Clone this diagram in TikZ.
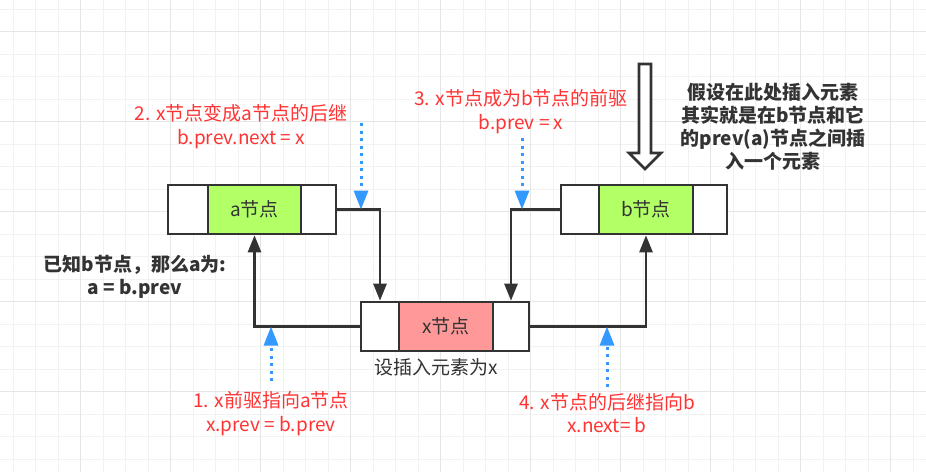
\documentclass[tikz,border=0pt]{standalone}
\usepackage{fontspec}
\setmainfont{Noto Sans CJK SC}
\usetikzlibrary{arrows.meta}
\definecolor{dark}{HTML}{333333}
\definecolor{redtxt}{HTML}{FF3333}
\definecolor{bluearr}{HTML}{3399FF}
\definecolor{greenfill}{HTML}{B3FF66}
\definecolor{pinkfill}{HTML}{FF9999}
\definecolor{gridminor}{HTML}{F2F2F2}
\definecolor{gridmajor}{HTML}{E6E6E6}
\tikzset{
  cell/.style={draw=dark, line width=2.6pt, inner sep=0pt, minimum height=49pt, fill=white,
    text=dark, font=\fontsize{19}{23}\selectfont},
  link/.style={draw=dark, line width=2.6pt, -{Triangle[length=17pt,width=13pt]}},
  hint/.style={draw=bluearr, line width=3pt, dash pattern=on 3pt off 4.5pt,
    -{Triangle[length=19pt,width=14pt,fill=bluearr]}},
  redlabel/.style={text=redtxt, align=center, inner sep=0pt, font=\fontsize{19}{23.3}\selectfont},
  blacklabel/.style={text=dark, align=center, inner sep=0pt, font=\fontsize{19}{23.3}\selectfont\bfseries},
  plainlabel/.style={text=dark, align=center, inner sep=0pt, font=\fontsize{19}{23.3}\selectfont},
}
\begin{document}
\begin{tikzpicture}[x=1pt,y=-1pt]
\useasboundingbox (0,0) rectangle (926,472);
\fill[white] (0,0) rectangle (926,472);
% grid
\foreach \i in {0,...,41} \draw[gridminor, line width=1pt] ({13.2+22.5*\i},0) -- ({13.2+22.5*\i},472);
\foreach \j in {0,...,20} \draw[gridminor, line width=1pt] (0,{9.2+22.5*\j}) -- (926,{9.2+22.5*\j});
\foreach \i in {0,...,9} \draw[gridmajor, line width=1pt] ({80.7+90*\i},0) -- ({80.7+90*\i},472);
\foreach \j in {0,...,4} \draw[gridmajor, line width=1pt] (0,{31.7+90*\j}) -- (926,{31.7+90*\j});

% node a
\node[cell, minimum width=40pt] (aL) at (188,209.5) {};
\node[cell, minimum width=93pt, fill=greenfill] (aM) at (254.5,209.5) {a节点};
\node[cell, minimum width=35pt] (aR) at (318.5,209.5) {};
% node b
\node[cell, minimum width=38pt] (bL) at (580,209.5) {};
\node[cell, minimum width=94pt, fill=greenfill] (bM) at (646,209.5) {b节点};
\node[cell, minimum width=34pt] (bR) at (710,209.5) {};
% node x
\node[cell, minimum width=38pt] (xL) at (380,326.5) {};
\node[cell, minimum width=94pt, fill=pinkfill] (xM) at (446,326.5) {x节点};
\node[cell, minimum width=36pt] (xR) at (511,326.5) {};

% links
\draw[link] (aR.east) -| (xL.north);
\draw[link] (bL.west) -| (xR.north);
\draw[link] (xL.west) -| (aM.south);
\draw[link] (xR.east) -| (bM.south);

% hints
\coordinate (h2) at (361,123);
\coordinate (h3) at (522,138);
\coordinate (h1) at (271,381);
\coordinate (h4) at (607,387);
\draw[hint] (h2) -- (h2 |- aR.east);
\draw[hint] (h3) -- (h3 |- bL.west);
\draw[hint] (h1) -- (h1 |- xL.west);
\draw[hint] (h4) -- (h4 |- xR.east);

% hollow arrow
\draw[draw=dark, line width=2.6pt, fill=white, line join=miter]
  (639,64) -- (651,64) -- (651,153) -- (661,153) -- (645,169) -- (629,153) -- (639,153) -- cycle;

% labels
\node[redlabel] (t2) at (241,126.5) {2. x节点变成a节点的后继\\b.prev.next = x};
\node[redlabel] (t3) at (521,111.5) {3. x节点成为b节点的前驱\\b.prev = x};
\node[redlabel] (t1) at (271,413.5) {1. x前驱指向a节点\\x.prev = b.prev};
\node[redlabel] (t4) at (607,413) {4. x节点的后继指向b\\x.next= b};
\node[blacklabel] (note) at (773,126.7) {假设在此处插入元素\\其实就是在b节点和它\\的prev(a)节点之间插\\入一个元素};
\node[blacklabel] (known) at (135,276.5) {已知b节点，那么a为:\\a = b.prev};
\node[plainlabel] (xdesc) at (436,367) {设插入元素为x};
\end{tikzpicture}
\end{document}
